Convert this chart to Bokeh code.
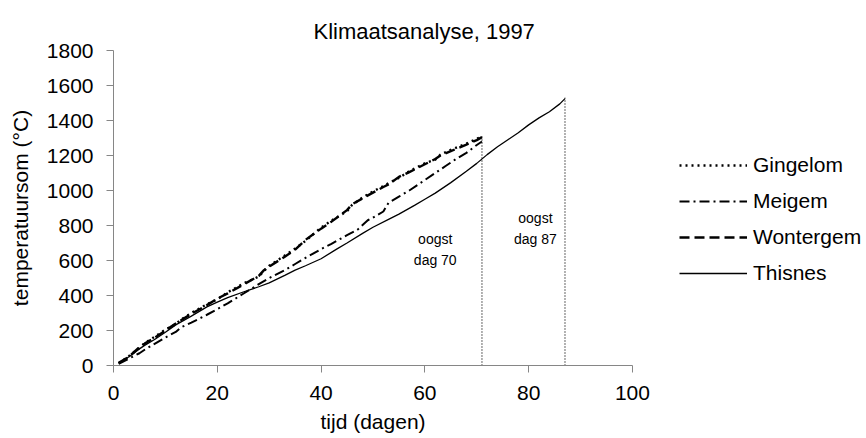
from bokeh.plotting import figure
from bokeh.models import Range1d, Legend, LegendItem, Label, Title
from bokeh.embed import file_html
from bokeh.resources import INLINE

# ---- data ----
days_g = [1, 3, 5, 6, 8, 10, 12, 13, 15, 18, 20, 22, 25, 28, 29, 30, 33, 35, 37, 40,
          42, 45, 46, 48, 50, 52, 53, 55, 57, 60, 62, 63, 65, 68, 70, 71]
gingelom = [12, 55, 100, 128, 165, 205, 236, 262, 300, 350, 378, 418, 468, 508, 540, 570, 628, 668, 712, 788,
            828, 882, 918, 960, 995, 1025, 1042, 1072, 1110, 1156, 1176, 1205, 1232, 1268, 1295, 1310]

days_w = [1, 3, 5, 6, 8, 10, 12, 13, 15, 18, 20, 22, 25, 28, 29, 30, 33, 35, 37, 40,
          42, 45, 46, 48, 50, 52, 53, 55, 57, 60, 62, 63, 65, 68, 70, 71]
wontergem = [15, 50, 105, 125, 160, 200, 240, 258, 295, 345, 382, 412, 462, 512, 545, 565, 622, 662, 718, 782,
             822, 888, 922, 955, 988, 1020, 1035, 1078, 1105, 1150, 1180, 1200, 1225, 1262, 1288, 1305]

days_m = [1, 3, 5, 6, 8, 10, 12, 13, 15, 18, 20, 22, 25, 28, 30, 33, 35, 37, 40, 42,
          45, 47, 49, 50, 52, 53, 55, 57, 60, 62, 64, 66, 68, 70, 71]
meigem = [10, 40, 70, 90, 125, 160, 192, 218, 245, 290, 322, 355, 410, 465, 500, 545, 580, 615, 665, 695,
          745, 775, 830, 845, 880, 930, 965, 1000, 1060, 1100, 1140, 1180, 1215, 1260, 1280]

days_t = [1, 3, 5, 6, 8, 10, 12, 15, 18, 20, 22, 25, 28, 30, 33, 35, 37, 40, 43, 45,
          48, 50, 53, 55, 58, 60, 62, 65, 68, 70, 72, 74, 76, 78, 80, 82, 84, 86, 87]
thisnes = [15, 50, 95, 115, 150, 190, 232, 282, 335, 362, 388, 420, 450, 472, 515, 545, 570, 610, 665, 700,
           755, 790, 835, 865, 915, 950, 985, 1045, 1110, 1155, 1205, 1250, 1290, 1330, 1375, 1415, 1450, 1495, 1525]

harvest_day = [71, 87]
harvest_top = [1310, 1530]
harvest_text = ["oogst\ndag 70", "oogst\ndag 87"]

x_ticks = [0, 20, 40, 60, 80, 100]
y_ticks = [0, 200, 400, 600, 800, 1000, 1200, 1400, 1600, 1800]

FONT = "Liberation Sans"

# frame spans to the right edge so the legend can sit inside it;
# the x axis itself is bounded to 0..100
X_VIEW_MAX = 145.1

p = figure(width=866, height=438, output_backend="svg", toolbar_location=None,
           x_range=Range1d(0, X_VIEW_MAX), y_range=Range1d(0, 1800),
           min_border_left=113, min_border_right=0, min_border_top=50, min_border_bottom=73)

p.title.text = "Klimaatsanalyse, 1997"
p.title.align = "left"
p.title.offset = 200
p.title.standoff = 14
p.title.text_font = FONT
p.title.text_font_size = "22px"
p.title.text_font_style = "normal"
p.title.text_color = "black"

p.outline_line_color = None
p.xgrid.grid_line_color = None
p.ygrid.grid_line_color = None
p.background_fill_color = "white"
p.border_fill_color = "white"

for ax in (p.xaxis[0], p.yaxis[0]):
    ax.axis_line_color = "#868686"
    ax.major_tick_line_color = "#868686"
    ax.minor_tick_line_color = None
    ax.major_tick_in = 0
    ax.major_tick_out = 7
    ax.major_label_text_font = FONT
    ax.major_label_text_font_size = "21px"
    ax.major_label_text_color = "black"
    ax.axis_label_text_font = FONT
    ax.axis_label_text_font_size = "21px"
    ax.axis_label_text_font_style = "normal"
    ax.axis_label_text_color = "black"

p.xaxis.bounds = (0, 100)
p.xaxis.ticker = x_ticks
p.yaxis.ticker = y_ticks
p.yaxis.axis_label = "temperatuursom (°C)"
p.xaxis.major_label_standoff = 13
p.yaxis.major_label_standoff = 13
p.yaxis.axis_label_standoff = 12
# a blank, tiny axis label only adds a little room under the tick labels
p.xaxis.axis_label = " "
p.xaxis.axis_label_text_font_size = "1px"
p.xaxis.axis_label_standoff = 1

# x-axis title, centred under the 0..100 axis
xtitle = Title(text="tijd (dagen)", align="left", offset=207, standoff=0,
               text_font=FONT, text_font_size="21px", text_font_style="normal", text_color="black")
p.add_layout(xtitle, "below")

# harvest markers
p.segment(x0=harvest_day, y0=[0, 0], x1=harvest_day, y1=harvest_top,
          line_color="black", line_width=1.2, line_dash="1 2")

r_g = p.line(days_g, gingelom, line_color="black", line_width=2.4, line_dash="2 4")
r_m = p.line(days_m, meigem, line_color="black", line_width=2, line_dash="10 4 2 4")
r_w = p.line(days_w, wontergem, line_color="black", line_width=2.4, line_dash="10 5")
r_t = p.line(days_t, thisnes, line_color="black", line_width=1.3)

lab1 = Label(x=62, y=665, text=harvest_text[0], text_align="center", text_baseline="middle",
             text_font=FONT, text_font_size="14px", text_color="black", text_line_height=1.3)
lab2 = Label(x=81.3, y=785, text=harvest_text[1], text_align="center", text_baseline="middle",
             text_font=FONT, text_font_size="14px", text_color="black", text_line_height=1.3)
p.add_layout(lab1)
p.add_layout(lab2)

legend = Legend(items=[LegendItem(label="Gingelom", renderers=[r_g]),
                       LegendItem(label="Meigem", renderers=[r_m]),
                       LegendItem(label="Wontergem", renderers=[r_w]),
                       LegendItem(label="Thisnes", renderers=[r_t])],
                location=(566, 80), glyph_width=68, glyph_height=20, label_height=20,
                spacing=12, label_standoff=6, padding=0, margin=0,
                border_line_alpha=0, background_fill_alpha=0,
                label_text_font=FONT, label_text_font_size="21px", label_text_color="black")
p.add_layout(legend)

open("out.html", "w").write(file_html(p, INLINE))
